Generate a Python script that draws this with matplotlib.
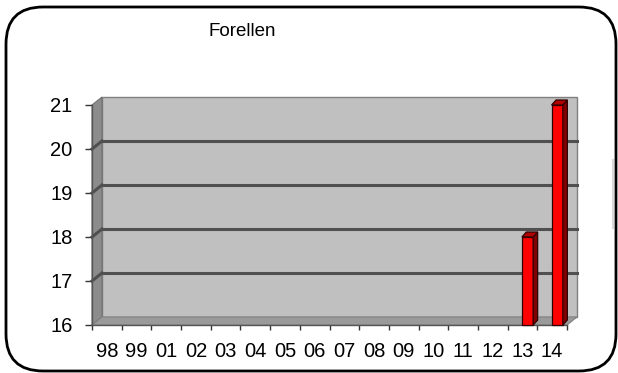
import matplotlib
matplotlib.use("Agg")
import matplotlib.pyplot as plt
from matplotlib.patches import Polygon, FancyBboxPatch
import numpy as np

title = "Forellen"
categories = ["98", "99", "01", "02", "03", "04", "05", "06", "07", "08", "09", "10", "11", "12", "13", "14"]
values = [0, 0, 0, 0, 0, 0, 0, 0, 0, 0, 0, 0, 0, 0, 18, 21]
y_ticks = [16, 17, 18, 19, 20, 21]

plt.rcParams['font.family'] = ['Liberation Sans', 'DejaVu Sans']

W, H = 618, 373
fig = plt.figure(figsize=(W / 100, H / 100), dpi=100)

# rounded frame
fx0, fx1, fy0, fy1 = 6, 616, 7, 371
frame = FancyBboxPatch((fx0 / W, (H - fy1) / H), (fx1 - fx0) / W, (fy1 - fy0) / H,
                       boxstyle="round,pad=0,rounding_size=0.06",
                       transform=fig.transFigure, fill=False, edgecolor="black",
                       linewidth=2, mutation_aspect=W / H, zorder=0)
fig.patches.append(frame)
fig.lines.append(plt.Line2D([613 / W, 613 / W], [(H - 160) / H, (H - 228) / H],
                            transform=fig.transFigure, color="#d8d8d8", lw=1.5))

left_px, right_px, bottom_px, top_px = 92, 567, 325, 105
ax = fig.add_axes([left_px / W, (H - bottom_px) / H, (right_px - left_px) / W, (bottom_px - top_px) / H])
n = len(categories)
ymin, ymax = y_ticks[0], y_ticks[-1]
ax.set_xlim(0, n)
ax.set_ylim(ymin, ymax)
for s in ax.spines.values():
    s.set_visible(False)
ax.patch.set_visible(False)

px_x = (right_px - left_px) / n
px_y = (bottom_px - top_px) / (ymax - ymin)
dx = 10 / px_x
dy = 8 / px_y

# walls
ax.add_patch(Polygon([(dx, ymin + dy), (n + dx, ymin + dy), (n + dx, ymax + dy), (dx, ymax + dy)],
                     closed=True, facecolor="#c0c0c0", edgecolor="#808080", lw=1, clip_on=False, zorder=1))
ax.add_patch(Polygon([(0, ymin), (dx, ymin + dy), (dx, ymax + dy), (0, ymax)],
                     closed=True, facecolor="#8c8c8c", edgecolor="#707070", lw=0.8, clip_on=False, zorder=1))
ax.add_patch(Polygon([(0, ymin), (n, ymin), (n + dx, ymin + dy), (dx, ymin + dy)],
                     closed=True, facecolor="#9a9a9a", edgecolor="#808080", lw=0.8, clip_on=False, zorder=1))

# gridlines
for v in y_ticks[1:-1]:
    ax.plot([dx, n + dx], [v + dy, v + dy], color="#505050", lw=2.2, clip_on=False, zorder=2)
    ax.plot([0, dx], [v, v + dy], color="#505050", lw=2.2, clip_on=False, zorder=2)

# bars (pseudo-3D)
bw = 0.38
boff = 0.48
bdx = 4.5 / px_x
bdy = 5 / px_y
xs = np.arange(n)
for i, v in enumerate(values):
    if v <= ymin:
        continue
    x0 = xs[i] + boff
    ax.bar(x0, v - ymin, bottom=ymin, width=bw, align="edge", color="#ff0000",
           edgecolor="#300000", linewidth=0.9, zorder=4, clip_on=False)
    ax.add_patch(Polygon([(x0 + bw, ymin), (x0 + bw + bdx, ymin + bdy), (x0 + bw + bdx, v + bdy), (x0 + bw, v)],
                         closed=True, facecolor="#800000", edgecolor="#300000", lw=0.9, clip_on=False, zorder=4))
    ax.add_patch(Polygon([(x0, v), (x0 + bw, v), (x0 + bw + bdx, v + bdy), (x0 + bdx, v + bdy)],
                         closed=True, facecolor="#b00000", edgecolor="#300000", lw=0.9, clip_on=False, zorder=4))

# axes lines
ax.plot([0, 0], [ymin, ymax], color="#555555", lw=1, clip_on=False, zorder=3)
ax.plot([0, n], [ymin, ymin], color="#555555", lw=1, clip_on=False, zorder=3)

ax.set_yticks(y_ticks)
ax.set_yticklabels([str(t) for t in y_ticks], fontsize=14.5)
ax.set_xticks(np.arange(n + 1))
ax.set_xticklabels([])
ax.set_xticks(xs + 0.5, minor=True)
ax.set_xticklabels(categories, minor=True, fontsize=14.5)
ax.tick_params(axis="x", which="major", length=3.8, width=1, color="#333333", direction="out")
ax.tick_params(axis="x", which="minor", length=0, pad=12)
ax.tick_params(axis="y", length=5, width=1, color="#333333", pad=9)

fig.text(242 / W, (H - 31) / H, title, ha="center", va="center", fontsize=13.5)

fig.savefig("out.png", dpi=100)
